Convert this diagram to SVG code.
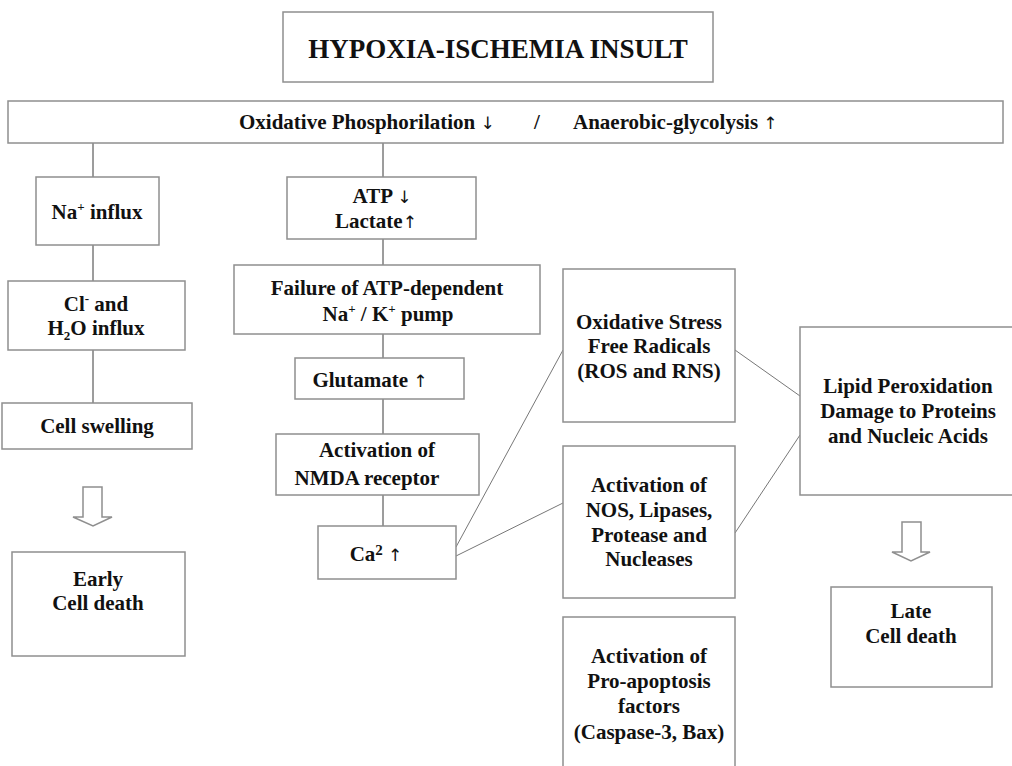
<svg xmlns="http://www.w3.org/2000/svg" width="1012" height="766" viewBox="0 0 1012 766">
<style>
.box{fill:#fff;stroke:#8f8f8f;stroke-width:1.5}
.t{font-family:"Liberation Serif","Times New Roman",serif;font-weight:bold;font-size:21px;fill:#111;text-anchor:middle}
.s{text-anchor:start}
.a{font-family:"DejaVu Sans",sans-serif;font-weight:normal;font-size:17px}
.c{stroke:#3a3a3a;stroke-width:1;fill:none}
.d{stroke:#777;stroke-width:1;fill:none}
.arr{fill:#fff;stroke:#8f8f8f;stroke-width:1.5}
</style>
<rect width="1012" height="766" fill="#fff"/>
<g id="connectors">
<line class="c" x1="93" y1="143" x2="93" y2="177"/>
<line class="c" x1="383" y1="143" x2="383" y2="177"/>
<line class="c" x1="93" y1="245" x2="93" y2="281"/>
<line class="c" x1="93" y1="350" x2="93" y2="403"/>
<line class="c" x1="383" y1="239" x2="383" y2="265"/>
<line class="c" x1="383" y1="334" x2="383" y2="358"/>
<line class="c" x1="383" y1="399" x2="383" y2="434"/>
<line class="c" x1="383" y1="495" x2="383" y2="526"/>
<line class="d" x1="456" y1="547" x2="563" y2="350"/>
<line class="d" x1="456" y1="556" x2="563" y2="503"/>
<line class="d" x1="735" y1="350" x2="800" y2="396"/>
<line class="d" x1="735" y1="533" x2="800" y2="435"/>
<path class="arr" d="M83,487 L102,487 L102,517 L112,517 L93,526 L73,517 L83,517 Z"/>
<path class="arr" d="M902,522 L921,522 L921,552 L930,552 L911,561 L892,552 L902,552 Z"/>
</g>
<g id="title">
<rect class="box" x="283" y="12" width="430" height="70"/>
<text class="t" x="498" y="58" style="font-size:27px">HYPOXIA-ISCHEMIA INSULT</text>
</g>
<g id="metabolism">
<rect class="box" x="8" y="101" width="995" height="42"/>
<text class="t s" x="239" y="129">Oxidative Phosphorilation <tspan class="a">↓</tspan></text>
<text class="t" x="537" y="129">/</text>
<text class="t s" x="573" y="129">Anaerobic-glycolysis <tspan class="a">↑</tspan></text>
</g>
<g id="na-influx">
<rect class="box" x="36" y="177" width="123" height="68"/>
<text class="t" x="97" y="219">Na<tspan font-size="13" dy="-8">+</tspan><tspan dy="8"> influx</tspan></text>
</g>
<g id="cl-influx">
<rect class="box" x="8" y="281" width="177" height="69"/>
<text class="t" x="96" y="311">Cl<tspan font-size="13" dy="-8">-</tspan><tspan dy="8"> and</tspan></text>
<text class="t" x="96" y="335">H<tspan font-size="13" dy="5">2</tspan><tspan dy="-5">O influx</tspan></text>
</g>
<g id="cell-swelling">
<rect class="box" x="2" y="403" width="190" height="46"/>
<text class="t" x="97" y="433">Cell swelling</text>
</g>
<g id="early-death">
<rect class="box" x="12" y="552" width="173" height="104"/>
<text class="t" x="98" y="586">Early</text>
<text class="t" x="98" y="610">Cell death</text>
</g>
<g id="atp">
<rect class="box" x="287" y="177" width="189" height="62"/>
<text class="t" x="382" y="203">ATP <tspan class="a">↓</tspan></text>
<text class="t" x="376" y="228">Lactate<tspan class="a">↑</tspan></text>
</g>
<g id="pump-failure">
<rect class="box" x="234" y="265" width="306" height="69"/>
<text class="t" x="387" y="295">Failure of ATP-dependent</text>
<text class="t" x="388" y="321">Na<tspan font-size="13" dy="-8">+</tspan><tspan dy="8"> /  K</tspan><tspan font-size="13" dy="-8">+</tspan><tspan dy="8"> pump</tspan></text>
</g>
<g id="glutamate">
<rect class="box" x="295" y="358" width="169" height="41"/>
<text class="t" x="370" y="387">Glutamate <tspan class="a">↑</tspan></text>
</g>
<g id="nmda">
<rect class="box" x="276" y="434" width="203" height="61"/>
<text class="t" x="377" y="457">Activation of</text>
<text class="t" x="367" y="485">NMDA receptor</text>
</g>
<g id="calcium">
<rect class="box" x="318" y="526" width="138" height="53"/>
<text class="t" x="376" y="561">Ca<tspan font-size="15" dy="-6">2</tspan><tspan dy="6"> </tspan><tspan class="a">↑</tspan></text>
</g>
<g id="oxidative-stress">
<rect class="box" x="563" y="269" width="172" height="153"/>
<text class="t" x="649" y="329">Oxidative Stress</text>
<text class="t" x="649" y="353">Free Radicals</text>
<text class="t" x="649" y="378">(ROS and RNS)</text>
</g>
<g id="enzymes">
<rect class="box" x="563" y="446" width="172" height="152"/>
<text class="t" x="649" y="492">Activation of</text>
<text class="t" x="649" y="517">NOS, Lipases,</text>
<text class="t" x="649" y="542">Protease and</text>
<text class="t" x="649" y="566">Nucleases</text>
</g>
<g id="pro-apoptosis">
<rect class="box" x="563" y="617" width="172" height="160"/>
<text class="t" x="649" y="663">Activation of</text>
<text class="t" x="649" y="688">Pro-apoptosis</text>
<text class="t" x="649" y="713">factors</text>
<text class="t" x="649" y="739">(Caspase-3, Bax)</text>
</g>
<g id="lipid">
<rect class="box" x="800" y="327" width="220" height="168"/>
<text class="t" x="908" y="393">Lipid Peroxidation</text>
<text class="t" x="908" y="418">Damage to Proteins</text>
<text class="t" x="908" y="443">and Nucleic Acids</text>
</g>
<g id="late-death">
<rect class="box" x="831" y="587" width="161" height="100"/>
<text class="t" x="911" y="618">Late</text>
<text class="t" x="911" y="643">Cell death</text>
</g>
</svg>
